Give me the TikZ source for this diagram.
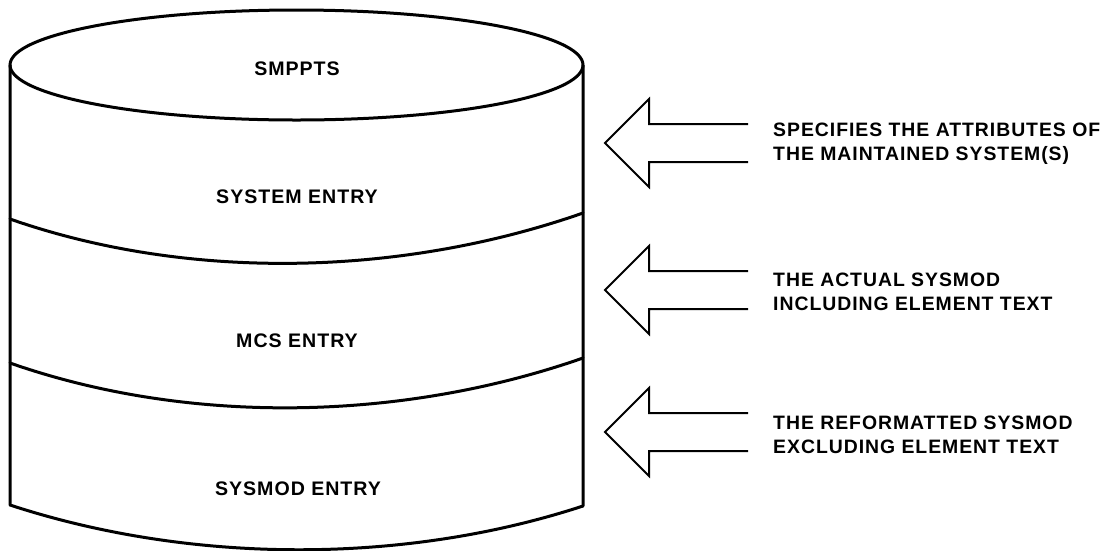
\documentclass[tikz,border=0pt]{standalone}
\usepackage{fontspec}
\setmainfont{Liberation Sans}
\newfontfamily\labelfont[LetterSpace=5]{Liberation Sans}
\begin{document}
\begin{tikzpicture}[x=1pt,y=-1pt,
  drumline/.style={line width=3pt,line join=round,line cap=round},
  arrowline/.style={line width=2pt,line join=miter},
  tier/.style={font=\labelfont\bfseries\fontsize{19.6}{23}\selectfont,inner sep=0pt},
  note/.style={font=\labelfont\bfseries\fontsize{19.4}{24}\selectfont,align=left,anchor=west,inner sep=0pt},
  hollowarrow/.pic={\draw[arrowline] (143,-19) -- (44,-19) -- (44,-44) -- (0,0) -- (44,44) -- (44,19) -- (143,19);}
]
\useasboundingbox (0,0) rectangle (1120,550);

% drum outline: walls and bottom rim
\draw[drumline] (10,65) -- (10,505)
  .. controls (190,564) and (403,565) .. (583,506) -- (583,65);
% top face
\draw[drumline] (296.5,65) ellipse [x radius=286.5, y radius=55];
% section boundaries
\draw[drumline] (10,219) .. controls (190,282) and (403,276) .. (583,213);
\draw[drumline] (10,363) .. controls (190,426) and (403,421) .. (583,358);

% section titles
\node[tier] (smppts) at (297,69) {SMPPTS};
\node[tier] (sysent) at (297,197) {SYSTEM ENTRY};
\node[tier] (mcsent) at (297,341) {MCS ENTRY};
\node[tier] (modent) at (298,489) {SYSMOD ENTRY};

% pointers with their notes
\pic at (605,143) {hollowarrow};
\pic at (605,290) {hollowarrow};
\pic at (605,432) {hollowarrow};
\node[note] (n1) at (773,144) {SPECIFIES THE ATTRIBUTES OF\\THE MAINTAINED SYSTEM(S)};
\node[note] (n2) at (773,292) {THE ACTUAL SYSMOD\\INCLUDING ELEMENT TEXT};
\node[note] (n3) at (773,435) {THE REFORMATTED SYSMOD\\EXCLUDING ELEMENT TEXT};
\end{tikzpicture}
\end{document}
